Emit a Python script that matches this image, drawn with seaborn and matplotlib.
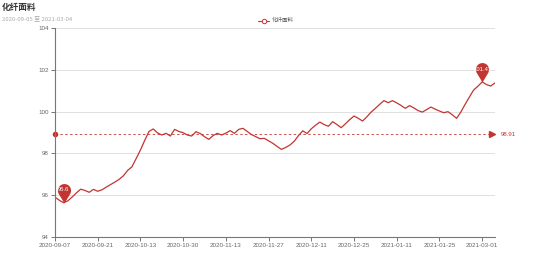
import numpy as np
import pandas as pd
import matplotlib
matplotlib.use("Agg")
import matplotlib.pyplot as plt
import seaborn as sns
from matplotlib.path import Path

# ---------------- data ----------------
title = "化纤面料"
subtitle = "2020-09-05 至 2021-03-04"
series_name = "化纤面料"
tick_labels = ["2020-09-07", "2020-09-21", "2020-10-13", "2020-10-30", "2020-11-13",
               "2020-11-27", "2020-12-11", "2020-12-25", "2021-01-11", "2021-01-25",
               "2021-03-01"]
values = [95.90, 95.75, 95.63, 95.72, 95.90, 96.10, 96.28, 96.22, 96.13, 96.27,
          96.18, 96.25, 96.38, 96.50, 96.62, 96.75, 96.92, 97.18, 97.35, 97.75,
          98.16, 98.62, 99.05, 99.17, 98.98, 98.88, 98.96, 98.83, 99.15, 99.05,
          98.99, 98.88, 98.83, 99.04, 98.95, 98.80, 98.67, 98.85, 98.96, 98.88,
          98.97, 99.09, 98.96, 99.15, 99.20, 99.05, 98.90, 98.80, 98.70, 98.72,
          98.60, 98.48, 98.33, 98.19, 98.28, 98.40, 98.58, 98.85, 99.08, 98.95,
          99.18, 99.35, 99.50, 99.38, 99.30, 99.52, 99.38, 99.23, 99.42, 99.62,
          99.79, 99.68, 99.55, 99.75, 99.98, 100.16, 100.35, 100.53, 100.43, 100.53,
          100.42, 100.30, 100.16, 100.29, 100.18, 100.05, 99.98, 100.10, 100.22, 100.12,
          100.03, 99.95, 100.00, 99.85, 99.68, 99.98, 100.35, 100.70, 101.04, 101.22,
          101.43, 101.30, 101.23, 101.38]
average_value = 98.91
max_label = "101.43"
min_label = "95.6"
y_ticks = [94, 96, 98, 100, 102, 104]

RED = "#c23531"

sns.set_theme(style="white")
plt.rcParams['font.family'] = ['Noto Sans CJK SC', 'DejaVu Sans']

df = pd.DataFrame({"idx": np.arange(len(values)), "value": values})

fig = plt.figure(figsize=(5.54, 2.65), dpi=100)
ax = fig.add_axes([55 / 554, 1 - 236.7 / 265, 440 / 554, 208.4 / 265])

sns.lineplot(data=df, x="idx", y="value", ax=ax, color=RED, linewidth=0.9)

n = len(values)
ax.set_xlim(0, n - 1)
ax.set_ylim(y_ticks[0], y_ticks[-1])
ax.set_yticks(y_ticks)
ax.set_yticklabels([str(t) for t in y_ticks])
tick_pos = [i * 10 for i in range(len(tick_labels))]
ax.set_xticks(tick_pos)
ax.set_xticklabels(tick_labels)
ax.set_xlabel("")
ax.set_ylabel("")

ax.grid(axis="y", color="#e0e0e0", linewidth=0.7)
ax.grid(axis="x", visible=False)
for s in ["top", "right"]:
    ax.spines[s].set_visible(False)
for s in ["left", "bottom"]:
    ax.spines[s].set_color("#777777")
    ax.spines[s].set_linewidth(0.8)
ax.tick_params(axis="both", which="both", direction="out", length=3, width=0.7,
               color="#777777", labelsize=4.5, labelcolor="#666666", pad=1.5)
ax.tick_params(axis="x", bottom=True)
ax.tick_params(axis="y", left=True)
for lbl in ax.get_xticklabels() + ax.get_yticklabels():
    lbl.set_family(['Liberation Sans', 'DejaVu Sans'])

# average mark line
ax.plot([0, n - 1.8], [average_value, average_value], color=RED, linewidth=0.7,
        dashes=(2.5, 2.5), alpha=0.85)
ax.plot([0], [average_value], marker="o", markersize=3, color=RED, clip_on=False)
ax.plot([n - 1.8], [average_value], marker=">", markersize=4, color=RED, clip_on=False)
ax.annotate(f"{average_value:.2f}", xy=(n - 1, average_value), xytext=(4, 0),
            textcoords="offset points", va="center", ha="left", fontsize=4.3,
            color=RED, annotation_clip=False, family=['Liberation Sans', 'DejaVu Sans'])

# pin marker path (tip at origin)
d = 1.95
ang = np.degrees(np.arccos(1 / d))
start = -90 + ang
end = 270 - ang
arc = Path.arc(start, end)
verts = [(0, 0)] + [(x, y + d) for x, y in arc.vertices] + [(0, 0)]
codes = [Path.MOVETO] + [Path.LINETO] + list(arc.codes[1:]) + [Path.CLOSEPOLY]
pin = Path(verts, codes)
pin_size = 28
center_off = (d / (d + 1)) * 0.5 * pin_size

imax = int(np.argmax(values))
imin = int(np.argmin(values))
for i, lab in [(imax, max_label), (imin, min_label)]:
    ax.plot([i], [values[i]], marker=pin, markersize=pin_size, color=RED,
            markeredgewidth=0, clip_on=False, zorder=5)
    ax.annotate(lab, xy=(i, values[i]), xytext=(0, center_off), textcoords="offset points",
                ha="center", va="center", fontsize=4.2, color="white", zorder=6,
                family=['Liberation Sans', 'DejaVu Sans'], annotation_clip=False)

# title / subtitle
fig.text(2 / 554, 1 - 7.5 / 265, title, fontsize=6.2, fontweight="bold", color="#333333",
         ha="left", va="center")
fig.text(2 / 554, 1 - 18 / 265, subtitle, fontsize=4.3, color="#aaaaaa",
         ha="left", va="center")

# legend
ly = 1 - 20.5 / 265
fig.lines.append(plt.Line2D([258 / 554, 269 / 554], [ly, ly], transform=fig.transFigure,
                            color=RED, linewidth=0.8))
fig.lines.append(plt.Line2D([263.5 / 554], [ly], transform=fig.transFigure, marker="o",
                            markersize=3.2, markerfacecolor="white", markeredgecolor=RED,
                            markeredgewidth=0.7, linestyle="none"))
fig.text(272 / 554, ly, series_name, fontsize=4.0, color="#555555", ha="left", va="center")

fig.savefig("out.png", dpi=100)
